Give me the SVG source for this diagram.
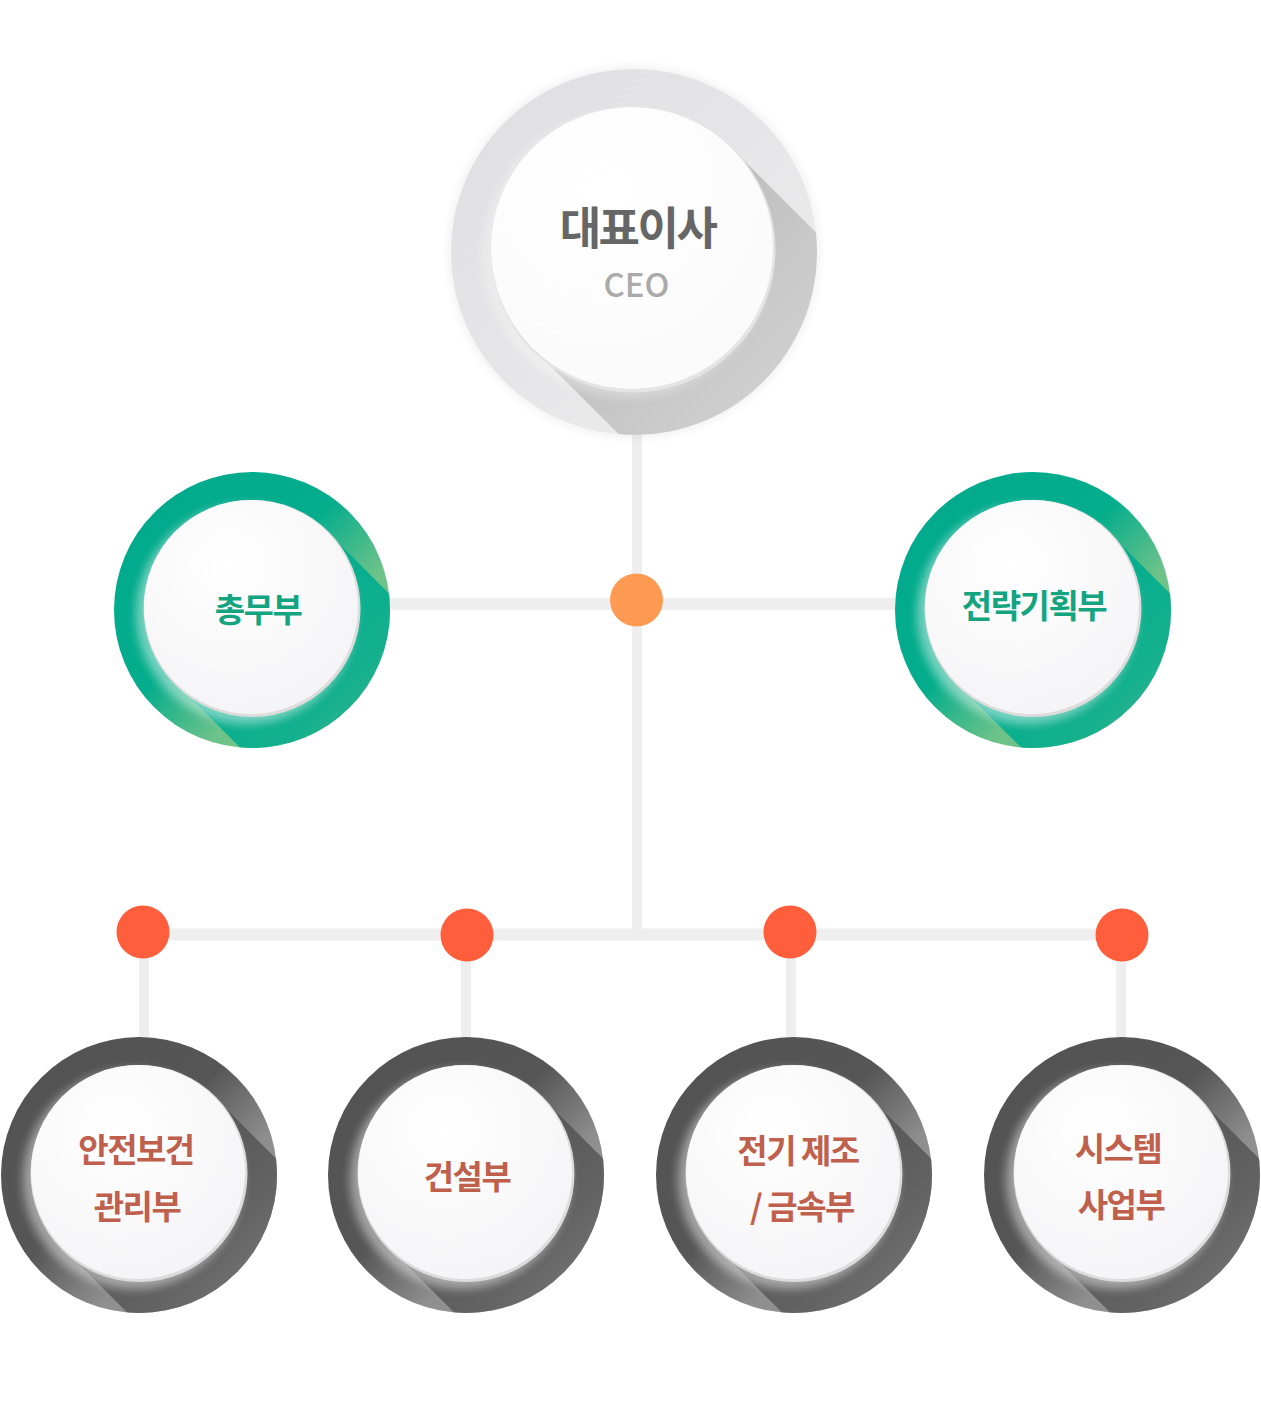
<svg xmlns="http://www.w3.org/2000/svg" width="1261" height="1408" viewBox="0 0 1261 1408">
<style>
.line{stroke:#eeeeee;fill:none;stroke-linecap:butt}
.h{stroke-width:12}
.v{stroke-width:10}
.dotO{fill:#ff9a52}
.dotR{fill:#ff5e3d}
.ceo{font-family:"Noto Sans CJK KR","Noto Sans",sans-serif;font-weight:700;font-size:45px;fill:#666666;letter-spacing:-2.5px}
.ceoSub{font-family:"Noto Sans CJK KR","Noto Sans",sans-serif;font-weight:500;font-size:33px;fill:#aaaaaa}
.gt{font-family:"Noto Sans CJK KR",sans-serif;font-weight:700;font-size:33px;fill:#14a47f;letter-spacing:-1.5px}
.dt{font-family:"Noto Sans CJK KR",sans-serif;font-weight:700;font-size:33px;fill:#bf604d;letter-spacing:-1.5px}
</style>
<defs>
<filter id="blur5" x="-30%" y="-30%" width="160%" height="160%"><feGaussianBlur stdDeviation="5"/></filter>
<clipPath id="clipD"><circle cx="0" cy="0" r="138"/></clipPath>
<clipPath id="clipC"><circle cx="634" cy="252" r="183"/></clipPath>
<linearGradient id="gRing" gradientUnits="userSpaceOnUse" x1="-138" y1="-138" x2="138" y2="138">
<stop offset="0" stop-color="#00a98c"/><stop offset="0.45" stop-color="#04ad8c"/><stop offset="0.66" stop-color="#6cc289"/><stop offset="1" stop-color="#82c982"/>
</linearGradient>
<linearGradient id="gBand" gradientUnits="userSpaceOnUse" x1="0" y1="0" x2="140" y2="140">
<stop offset="0" stop-color="#00ad8e"/><stop offset="0.6" stop-color="#14b08e"/><stop offset="1" stop-color="#4ab88c"/>
</linearGradient>
<linearGradient id="dRing" gradientUnits="userSpaceOnUse" x1="-138" y1="-138" x2="138" y2="138">
<stop offset="0" stop-color="#525252"/><stop offset="0.45" stop-color="#565656"/><stop offset="0.66" stop-color="#8e8e8e"/><stop offset="1" stop-color="#a2a2a2"/>
</linearGradient>
<linearGradient id="dBand" gradientUnits="userSpaceOnUse" x1="0" y1="0" x2="140" y2="140">
<stop offset="0" stop-color="#545454"/><stop offset="0.55" stop-color="#646464"/><stop offset="1" stop-color="#828282"/>
</linearGradient>
<radialGradient id="innerFill" cx="0.4" cy="0.3" r="0.75">
<stop offset="0" stop-color="#ffffff"/><stop offset="1" stop-color="#f4f4f6"/>
</radialGradient>
<radialGradient id="ceoFill" cx="0.4" cy="0.3" r="0.75">
<stop offset="0" stop-color="#ffffff"/><stop offset="1" stop-color="#fafafa"/>
</radialGradient>
<linearGradient id="cRing" x1="0" y1="0" x2="1" y2="1">
<stop offset="0" stop-color="#dedee0"/><stop offset="1" stop-color="#eeeeef"/>
</linearGradient>
<linearGradient id="cBand" gradientUnits="userSpaceOnUse" x1="632" y1="248" x2="820" y2="436">
<stop offset="0" stop-color="#bdbdbd"/><stop offset="1" stop-color="#d6d6d6"/>
</linearGradient>
<g id="innerD">
<circle cx="-6" cy="4" r="110" fill="#ffffff" opacity="0.45" filter="url(#blur5)"/>
<circle cx="0" cy="-1.5" r="108.5" fill="#dcdcdc"/>
<circle cx="-1" cy="-3" r="107" fill="url(#innerFill)"/>
</g>
<g id="greenBody">
<circle cx="0" cy="0" r="138" fill="url(#gRing)"/>
<g clip-path="url(#clipD)">
<polygon points="74.7,-78.7 324.7,171.3 173.3,322.7 -76.7,72.7" fill="url(#gBand)"/>
<use href="#innerD"/>
</g>
</g>
<g id="darkBody">
<circle cx="0" cy="0" r="138" fill="url(#dRing)"/>
<g clip-path="url(#clipD)">
<polygon points="74.7,-78.7 324.7,171.3 173.3,322.7 -76.7,72.7" fill="url(#dBand)"/>
<use href="#innerD"/>
</g>
</g>
</defs>
<rect x="0" y="0" width="1261" height="1408" fill="#ffffff"/>

<g id="connectors">
<line class="line v" x1="637" y1="430" x2="637" y2="934"/>
<line class="line h" x1="385" y1="604" x2="900" y2="604"/>
<line class="line h" x1="143" y1="934.5" x2="1122" y2="934.5"/>
<line class="line v" x1="144" y1="932" x2="144" y2="1042"/>
<line class="line v" x1="466" y1="935" x2="466" y2="1042"/>
<line class="line v" x1="791" y1="932" x2="791" y2="1042"/>
<line class="line v" x1="1121" y1="935" x2="1121" y2="1042"/>
<circle class="dotO" cx="636.5" cy="600" r="26.5"/>
<circle class="dotR" cx="143" cy="932" r="26.5"/>
<circle class="dotR" cx="467" cy="935" r="26.5"/>
<circle class="dotR" cx="790" cy="932" r="26.5"/>
<circle class="dotR" cx="1122" cy="935" r="26.5"/>
</g>

<g id="node-ceo">
<circle cx="634" cy="252" r="186" fill="#000000" opacity="0.05" filter="url(#blur5)"/>
<circle cx="634" cy="252" r="183" fill="url(#cRing)"/>
<g clip-path="url(#clipC)">
<polygon points="731.7,148.3 1131.7,548.3 932.3,747.7 532.3,347.7" fill="url(#cBand)"/>
<circle cx="626" cy="254" r="144" fill="#ffffff" opacity="0.3" filter="url(#blur5)"/>
<circle cx="633" cy="250" r="142.5" fill="#e4e4e4"/>
<circle cx="632" cy="248" r="141" fill="url(#ceoFill)"/>
</g>
<text class="ceo" x="637.5" y="245" text-anchor="middle">대표이사</text>
<text class="ceoSub" x="636.5" y="297" text-anchor="middle">CEO</text>
</g>

<g id="node-chongmu" transform="translate(252,610)">
<use href="#greenBody"/>
<text class="gt" x="6" y="12" text-anchor="middle">총무부</text>
</g>

<g id="node-strategy" transform="translate(1033,610)">
<use href="#greenBody"/>
<text class="gt" x="1" y="7.5" text-anchor="middle">전략기획부</text>
</g>

<g id="node-safety" transform="translate(139,1175)">
<use href="#darkBody"/>
<text class="dt" x="-3" y="-13" text-anchor="middle">안전보건</text>
<text class="dt" x="-2" y="43.5" text-anchor="middle">관리부</text>
</g>

<g id="node-construction" transform="translate(466,1175)">
<use href="#darkBody"/>
<text class="dt" x="1" y="14" text-anchor="middle">건설부</text>
</g>

<g id="node-electric" transform="translate(794,1175)">
<use href="#darkBody"/>
<text class="dt" x="4" y="-12" text-anchor="middle">전기 제조</text>
<text class="dt" x="8" y="44" text-anchor="middle">/ 금속부</text>
</g>

<g id="node-system" transform="translate(1122,1175)">
<use href="#darkBody"/>
<text class="dt" x="-4" y="-14" text-anchor="middle">시스템</text>
<text class="dt" x="-1" y="42" text-anchor="middle">사업부</text>
</g>
</svg>
